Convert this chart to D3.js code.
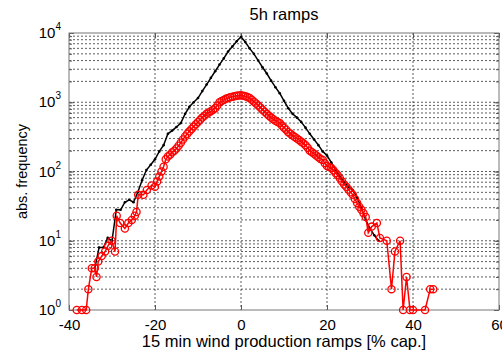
<!DOCTYPE html>
<html>
<head>
<meta charset="utf-8">
<script src="https://cdn.jsdelivr.net/npm/d3@7"></script>
<style>
  body { margin: 0; background: #fff; }
  text { font-family: "Liberation Sans", Arial, sans-serif; fill: #000; }
</style>
</head>
<body>
<script>
var width = 502,
    height = 353;

// black series: all ramps
var blackX = [-34, -33, -32, -31, -30, -29, -28, -27, -26, -25, -24, -23, -22, -21, -20, -19, -18, -17, -16, -15,
  -14, -13, -12, -11, -10, -9, -8, -7, -6, -5, -4, -3, -2, -1, 0, 1, 2, 3, 4, 5, 6, 7, 8, 9, 10,
  11, 12, 13, 14, 15, 16, 17, 18, 19, 20, 21, 22, 23, 24, 25, 26, 27, 28, 29, 30, 31, 32];
var blackY = [4, 8, 8, 11, 10, 28, 28, 36, 39, 36, 50, 75, 105, 125, 150, 195, 240, 350, 390, 440,
  500, 680, 860, 1000, 1150, 1450, 1800, 2250, 2800, 3500, 4300, 5400, 6400, 7600, 8800, 7400, 6000, 5000, 4000, 3200, 2600, 2050, 1650, 1350, 1050,
  820, 680, 600, 520, 430, 350, 290, 240, 195, 170, 135, 105, 84, 70, 60, 54, 42, 30, 20, 15, 12, 10];

// red series: circles
var redX = [-38.2, -37, -36, -35.5, -34.7, -34, -33.6, -33.2, -32.4, -31.6, -30.9, -30.1, -29.3, -28.9, -28.1, -27, -26.2, -25.4, -24.7, -24.3,
  -23.9, -22.7, -21.9, -20.8,
  -20, -19.5, -19, -18.5, -18, -17.5, -17, -16.5, -16, -15.5, -15, -14.5, -14, -13.5, -13, -12.5, -12, -11.5, -11, -10.5,
  -10, -9.5, -9, -8.5, -8, -7.5, -7, -6.5, -6, -5.5, -5, -4.5, -4, -3.5, -3, -2.5, -2, -1.5, -1, -0.5,
  0, 0.5, 1, 1.5, 2, 2.5, 3, 3.5, 4, 4.5, 5, 5.5, 6, 6.5, 7, 7.5, 8, 8.5, 9, 9.5,
  10, 10.5, 11, 11.5, 12, 12.5, 13, 13.5, 14, 14.5, 15, 15.5, 16, 16.5, 17, 17.5, 18, 18.5, 19, 19.5,
  20, 20.5, 21, 21.5, 22, 22.5, 23, 23.5, 24, 24.5, 25, 25.5, 26, 26.5, 27, 27.5, 28, 28.5, 29,
  29.6, 30.4, 31.6, 32.3, 33.9, 35, 35.8, 37, 37.7, 38.5, 39.3, 40, 42.8, 44, 44.7];
var redY = [1, 1, 1, 2, 4, 4, 3, 5, 6, 7, 8.5, 10, 7, 23, 18, 15, 18, 20, 23, 26,
  46, 46, 54, 63,
  60, 72, 85, 100, 117, 150, 165, 175, 190, 200, 215, 235, 260, 290, 320, 350, 380, 410, 445, 480,
  520, 560, 600, 640, 680, 710, 740, 780, 820, 900, 1000, 1040, 1080, 1120, 1150, 1180, 1200, 1220, 1240, 1255,
  1260, 1245, 1220, 1190, 1150, 1090, 1020, 960, 900, 840, 780, 730, 680, 640, 600, 570, 540, 520, 500, 460,
  430, 400, 370, 350, 330, 315, 300, 285, 270, 255, 240, 220, 200, 190, 180, 170, 160, 152, 147, 132,
  120, 116, 112, 104, 95, 88, 80, 72, 65, 60, 55, 50, 46, 40, 35, 31, 28, 25, 22,
  13, 16, 18, 11, 10, 2, 7, 10, 1, 3, 1, 1, 1, 2, 2];

var xTicks = [-40, -20, 0, 20, 40, 60];
var yTicks = [1, 10, 100, 1000, 10000];

var pLeft = 69, pRight = 499, pTop = 33, pBottom = 310;

var x = d3.scaleLinear().domain([-40, 60]).range([pLeft, pRight]);
var y = d3.scaleLog().domain([1, 1e4]).range([pBottom, pTop]);

var yMinor = [];
yTicks.slice(0, -1).forEach(function(t) {
  for (var k = 1; k < 10; k++) yMinor.push(t * k);
});
yMinor.push(1e4);

var svg = d3.select("body").append("svg")
    .attr("width", width)
    .attr("height", height);

// grid
var grid = svg.append("g")
    .attr("stroke", "#333")
    .attr("stroke-width", 0.8)
    .attr("stroke-dasharray", "2,2");

grid.selectAll("line.gx")
  .data(xTicks.slice(1, -1))
  .join("line")
    .attr("class", "gx")
    .attr("x1", d => x(d)).attr("x2", d => x(d))
    .attr("y1", pTop).attr("y2", pBottom);

grid.selectAll("line.gy")
  .data(yMinor.filter(d => d > 1 && d < 1e4))
  .join("line")
    .attr("class", "gy")
    .attr("x1", pLeft).attr("x2", pRight)
    .attr("y1", d => y(d)).attr("y2", d => y(d));

// axes with inward ticks
function styleAxis(g) {
  g.select(".domain").remove();
  g.selectAll(".tick line").attr("stroke", "#555");
}

svg.append("g")
    .attr("transform", `translate(0,${pBottom})`)
    .call(d3.axisBottom(x).tickValues(xTicks).tickSize(-5).tickPadding(9).tickFormat(d => String(d)))
    .call(styleAxis)
    .call(g => g.selectAll("text").attr("font-size", 15).attr("font-family", "Liberation Sans, Arial, sans-serif").attr("fill", "#000"));

svg.append("g")
    .attr("transform", `translate(0,${pTop})`)
    .call(d3.axisTop(x).tickValues(xTicks).tickSize(-5).tickFormat(""))
    .call(styleAxis);

svg.append("g")
    .attr("transform", `translate(${pLeft},0)`)
    .call(d3.axisLeft(y).tickValues(yMinor).tickSize(-3).tickFormat(""))
    .call(styleAxis);
svg.append("g")
    .attr("transform", `translate(${pLeft},0)`)
    .call(d3.axisLeft(y).tickValues(yTicks).tickSize(-5).tickFormat(""))
    .call(styleAxis);
svg.append("g")
    .attr("transform", `translate(${pRight},0)`)
    .call(d3.axisRight(y).tickValues(yMinor).tickSize(-3).tickFormat(""))
    .call(styleAxis);
svg.append("g")
    .attr("transform", `translate(${pRight},0)`)
    .call(d3.axisRight(y).tickValues(yTicks).tickSize(-5).tickFormat(""))
    .call(styleAxis);

// y tick labels with superscript
var ylab = svg.append("g").selectAll("text")
  .data(yTicks)
  .join("text")
    .attr("x", 61)
    .attr("y", d => y(d) + 5)
    .attr("text-anchor", "end")
    .attr("font-size", 15);
ylab.append("tspan").text("10");
ylab.append("tspan")
    .attr("dy", -8)
    .attr("font-size", 10)
    .text(d => Math.round(Math.log10(d)));

// box
svg.append("rect")
    .attr("x", pLeft).attr("y", pTop)
    .attr("width", pRight - pLeft).attr("height", pBottom - pTop)
    .attr("fill", "none")
    .attr("stroke", "#777")
    .attr("stroke-width", 1);

var line = d3.line()
    .x(d => x(d[0]))
    .y(d => y(d[1]));

var black = blackX.map((v, i) => [v, blackY[i]]);
var red = redX.map((v, i) => [v, redY[i]]);

svg.append("path")
    .datum(black)
    .attr("fill", "none")
    .attr("stroke", "#000")
    .attr("stroke-width", 1.5)
    .attr("d", line);

svg.append("g")
  .selectAll("circle")
  .data(black)
  .join("circle")
    .attr("cx", d => x(d[0]))
    .attr("cy", d => y(d[1]))
    .attr("r", 1.3)
    .attr("fill", "#000");

svg.append("path")
    .datum(red)
    .attr("fill", "none")
    .attr("stroke", "#f00")
    .attr("stroke-width", 1.5)
    .attr("d", line);

svg.append("g")
  .selectAll("circle")
  .data(red)
  .join("circle")
    .attr("cx", d => x(d[0]))
    .attr("cy", d => y(d[1]))
    .attr("r", 3.6)
    .attr("fill", "none")
    .attr("stroke", "#f00")
    .attr("stroke-width", 1.3);

// titles
svg.append("text")
    .attr("x", (pLeft + pRight) / 2)
    .attr("y", 20)
    .attr("text-anchor", "middle")
    .attr("font-size", 16.5)
    .text("5h ramps");

svg.append("text")
    .attr("x", (pLeft + pRight) / 2)
    .attr("y", 347)
    .attr("text-anchor", "middle")
    .attr("font-size", 16.5)
    .text("15 min wind production ramps [% cap.]");

svg.append("text")
    .attr("transform", `translate(27,${(pTop + pBottom) / 2}) rotate(-90)`)
    .attr("text-anchor", "middle")
    .attr("font-size", 14.5)
    .text("abs. frequency");
</script>
</body>
</html>
